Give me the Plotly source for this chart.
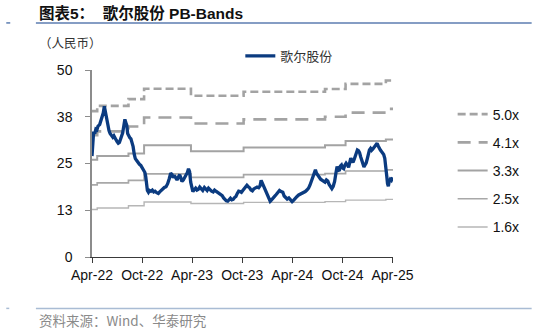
import plotly.graph_objects as go
import pandas as pd

# ---------------- data ----------------
start_date = "2022-04-01"
end_date = "2025-04-03"

price_name = "歌尔股份"
price_day_offsets = [
    0, 3, 6, 10, 14, 18, 22, 28, 32, 37, 41, 45, 48, 51, 55, 58, 62, 66, 71, 76,
    80, 84, 88, 92, 96, 100, 104, 108, 112, 116, 120, 123, 127, 130, 134, 138, 142, 146, 150, 154,
    158, 163, 168, 173, 178, 183, 188, 193, 196, 199, 202, 206, 210, 215, 220, 225, 230, 236, 242, 247,
    252, 258, 264, 270, 276, 282, 287, 292, 296, 300, 305, 310, 315, 320, 324, 328, 333, 338, 343, 348,
    352, 356, 360, 364, 368, 373, 378, 383, 388, 393, 398, 404, 410, 415, 420, 425, 430, 436, 442, 447,
    452, 458, 464, 470, 475, 480, 485, 490, 495, 500, 505, 510, 515, 520, 525, 530, 535, 540, 545, 550,
    555, 560, 565, 570, 575, 580, 585, 590, 596, 602, 608, 613, 617, 621, 625, 630, 635, 640, 645, 650,
    655, 660, 666, 672, 678, 684, 690, 696, 701, 706, 712, 718, 724, 730, 736, 742, 748, 754, 760, 766,
    772, 778, 784, 790, 795, 800, 805, 810, 815, 819, 824, 829, 834, 840, 845, 850, 855, 860, 865, 870,
    875, 880, 885, 890, 894, 898, 902, 906, 910, 914, 918, 922, 927, 932, 936, 940, 944, 948, 952, 956,
    960, 964, 968, 972, 976, 980, 984, 988, 992, 996, 1000, 1004, 1008, 1012, 1016, 1020, 1024, 1028, 1032, 1036,
    1040, 1044, 1048, 1052, 1056, 1060, 1064, 1068, 1072, 1075, 1078, 1081, 1084, 1088, 1092, 1097,
]
price_values = [
    27.0, 30.5, 33.5, 33.0, 34.2, 34.0, 35.0, 35.4, 36.3, 37.5, 38.5, 40.3, 39.0, 38.2, 37.0, 35.5, 33.8, 33.0, 32.5, 32.0,
    32.4, 31.6, 31.3, 30.8, 30.4, 30.6, 31.3, 32.2, 33.2, 35.0, 36.8, 36.0, 35.2, 33.0, 32.2, 31.9, 31.6, 30.8, 29.5, 27.5,
    26.3, 25.8, 25.2, 24.8, 24.5, 23.8, 23.5, 22.6, 21.5, 19.5, 17.8, 17.3, 17.8, 17.6, 17.9, 17.4, 17.6, 17.2, 17.0, 17.4,
    17.8, 18.0, 18.6, 18.8, 19.6, 21.0, 22.4, 22.0, 21.2, 21.8, 21.0, 20.6, 21.4, 22.0, 21.2, 20.2, 20.6, 21.2, 21.6, 22.6,
    23.6, 22.8, 20.0, 18.5, 17.5, 18.0, 18.4, 17.9, 18.1, 18.7, 18.2, 17.8, 18.6, 18.3, 17.8, 18.4, 18.0, 17.6, 17.4, 17.9,
    17.6, 17.3, 17.0, 16.8, 16.4, 15.8, 15.2, 15.0, 14.9, 15.5, 15.7, 15.3, 15.4, 15.9, 16.2, 17.0, 17.6, 17.5, 17.3, 17.8,
    18.4, 18.6, 19.2, 18.8, 18.5, 17.9, 17.7, 18.2, 18.4, 18.7, 18.5, 19.0, 20.5, 19.8, 19.2, 18.4, 17.6, 16.8, 15.6, 14.9,
    15.3, 15.6, 16.2, 16.7, 17.2, 17.8, 17.5, 17.3, 16.3, 15.8, 15.5, 15.8, 15.2, 14.8, 15.2, 15.8, 16.2, 16.6, 16.8, 17.0,
    17.2, 17.5, 17.9, 18.4, 19.2, 20.3, 21.6, 22.5, 23.3, 22.4, 21.8, 21.2, 20.8, 20.5, 20.2, 20.0, 20.6, 20.3, 19.4, 18.6,
    18.3, 18.9, 20.2, 22.5, 24.2, 23.3, 23.0, 24.3, 24.6, 23.8, 23.6, 24.5, 25.1, 24.6, 24.0, 25.2, 26.4, 25.8, 25.3, 26.0,
    26.9, 27.8, 28.6, 28.4, 27.9, 26.8, 25.9, 24.8, 24.1, 24.6, 25.1, 26.2, 27.6, 28.6, 29.0, 28.5, 28.8, 29.3, 29.6, 30.2,
    30.4, 29.7, 29.0, 28.6, 28.2, 27.8, 27.4, 26.4, 24.5, 21.8, 19.6, 18.9, 20.2, 20.8, 20.5, 21.3,
]

band_step_dates = ["2022-04-01", "2022-04-20", "2022-08-12", "2022-10-08", "2023-03-28",
                   "2023-10-06", "2024-07-29", "2024-10-12", "2025-03-08"]
band_labels = ["5.0x", "4.1x", "3.3x", "2.5x", "1.6x"]
band_5_0x = [39.0, 40.4, 42.2, 45.0, 43.1, 44.2, 44.9, 46.3, 47.2]
band_4_1x = [32.6, 33.6, 34.9, 37.3, 35.7, 36.8, 37.5, 38.6, 39.6]
band_3_3x = [26.0, 27.0, 27.7, 29.9, 28.3, 29.3, 29.9, 31.0, 31.4]
band_2_5x = [19.3, 19.8, 20.5, 22.2, 21.3, 22.0, 22.3, 23.0, 23.3]
band_1_6x = [12.7, 13.1, 13.7, 14.7, 14.3, 14.6, 14.8, 15.2, 15.4]

y_tick_values = [0, 12.5, 25, 37.5, 50]
y_tick_labels = ["0", "13", "25", "38", "50"]

title_text = "图表5：  歌尔股份 PB-Bands"
unit_text = "（人民币）"
source_text = "资料来源：Wind、华泰研究"

# ---------------- figure ----------------
W, H = 537, 332
L, R, T, B = 91.8, 140.4, 70.0, 75.3
PW, PH = W - L - R, H - T - B


def px_x(px):
    return (px - L) / PW


def px_y(py):
    return (H - B - py) / PH


FONT = "Liberation Sans, Arial, Noto Sans CJK SC, sans-serif"
CJK = "Noto Sans CJK SC, Liberation Sans, sans-serif"

fig = go.Figure()

band_series = [band_5_0x, band_4_1x, band_3_3x, band_2_5x, band_1_6x]
band_styles = [
    dict(color="#A3A3A3", width=2.6, dash="8px,4px"),
    dict(color="#A3A3A3", width=2.6, dash="13px,8px"),
    dict(color="#A3A3A3", width=2.0, dash="solid"),
    dict(color="#A8A8A8", width=1.7, dash="solid"),
    dict(color="#B6B6B6", width=1.4, dash="solid"),
]
for name, vals, st in zip(band_labels, band_series, band_styles):
    fig.add_trace(go.Scatter(
        x=band_step_dates + [end_date], y=vals + [vals[-1]],
        mode="lines", line=dict(shape="hv", **st), name=name,
        legend="legend2", legendgroup=name, showlegend=True,
    ))

price_dates = pd.Timestamp(start_date) + pd.to_timedelta(price_day_offsets, unit="D")
fig.add_trace(go.Scatter(
    x=price_dates, y=price_values, mode="lines", name=price_name,
    line=dict(color="#0B3B80", width=3.3), legend="legend",
))

fig.update_layout(
    width=W, height=H,
    margin=dict(l=L, r=R, t=T, b=B, pad=0),
    paper_bgcolor="white", plot_bgcolor="white",
    font=dict(family=FONT, size=14, color="#111111"),
    showlegend=True,
    legend=dict(
        x=px_x(242), y=px_y(56), xanchor="left", yanchor="middle",
        bgcolor="rgba(0,0,0,0)", borderwidth=0,
        font=dict(family=CJK, size=13, color="#333333"),
        orientation="v",
    ),
    legend2=dict(
        x=px_x(457), y=px_y(98.5), xanchor="left", yanchor="top",
        bgcolor="rgba(0,0,0,0)", borderwidth=0,
        font=dict(family=FONT, size=14, color="#111111"),
        traceorder="grouped", tracegroupgap=7,
    ),
    xaxis=dict(
        type="date", range=[start_date, end_date],
        tick0="2022-04-01", dtick="M6", tickformat="%b-%y",
        showgrid=False, zeroline=False,
        showline=True, linecolor="#3A3A3A", linewidth=1.2,
        ticks="outside", ticklen=5, tickcolor="#3A3A3A", tickwidth=1,
        ticklabelstandoff=0,
        tickfont=dict(family=FONT, size=14, color="#111111"),
    ),
    yaxis=dict(
        range=[0, 50], tickvals=y_tick_values, ticktext=y_tick_labels,
        showgrid=False, zeroline=False,
        showline=True, linecolor="#8C8C8C", linewidth=1.5,
        ticks="outside", ticklen=5, tickcolor="#8C8C8C", tickwidth=1,
        ticklabelstandoff=10,
        tickfont=dict(family=FONT, size=14, color="#111111"),
    ),
)

# title, unit, source
fig.add_annotation(text="<b>" + title_text + "</b>", xref="paper", yref="paper",
                   x=px_x(36), y=px_y(14), xanchor="left", yanchor="middle",
                   showarrow=False, font=dict(family=FONT, size=15.5, color="#111111"))
fig.add_annotation(text=unit_text, xref="paper", yref="paper",
                   x=px_x(36), y=px_y(43), xanchor="left", yanchor="middle",
                   showarrow=False, font=dict(family=CJK, size=12.5, color="#333333"))
fig.add_annotation(text=source_text, xref="paper", yref="paper",
                   x=px_x(36), y=px_y(320), xanchor="left", yanchor="middle",
                   showarrow=False, font=dict(family=CJK, size=13.5, color="#8A8A8A"))

# header / footer rules
fig.add_shape(type="line", xref="paper", yref="paper",
              x0=px_x(35), x1=px_x(537), y0=px_y(23), y1=px_y(23),
              line=dict(color="#5C7DB0", width=1.5))
fig.add_shape(type="line", xref="paper", yref="paper",
              x0=px_x(5), x1=px_x(9), y0=px_y(23), y1=px_y(23),
              line=dict(color="#5C7DB0", width=1.5))
fig.add_shape(type="line", xref="paper", yref="paper",
              x0=px_x(35), x1=px_x(537), y0=px_y(308), y1=px_y(308),
              line=dict(color="#A9BCD4", width=1.5))
fig.add_shape(type="line", xref="paper", yref="paper",
              x0=px_x(5), x1=px_x(8), y0=px_y(308), y1=px_y(308),
              line=dict(color="#A9BCD4", width=1.5))

fig.write_html("out.html")
